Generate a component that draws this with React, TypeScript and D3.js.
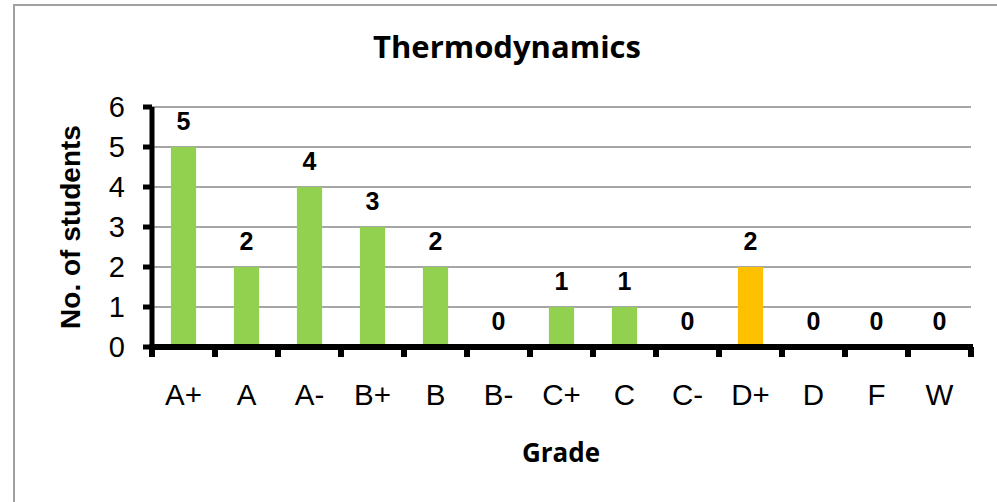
import * as d3 from "d3";

const grades = ["A+", "A", "A-", "B+", "B", "B-", "C+", "C", "C-", "D+", "D", "F", "W"];
const students = [5, 2, 4, 3, 2, 0, 1, 1, 0, 2, 0, 0, 0];
const barColors = ["#92d050", "#92d050", "#92d050", "#92d050", "#92d050", "#92d050", "#92d050", "#92d050", "#92d050", "#ffc000", "#92d050", "#92d050", "#92d050"];
const yTicks = [0, 1, 2, 3, 4, 5, 6];

const W = 997;
const H = 502;
const MARGIN = { top: 107, right: 26, bottom: 155, left: 152 };

export default function App() {
  const boundsWidth = W - MARGIN.left - MARGIN.right;
  const boundsHeight = H - MARGIN.top - MARGIN.bottom;

  const xScale = d3.scaleBand().domain(grades).range([0, boundsWidth]).padding(0);
  const yScale = d3.scaleLinear().domain([0, 6]).range([boundsHeight, 0]);
  const step = xScale.step();
  const barWidth = step * 0.4;

  const sans = "Arial, 'Liberation Sans', sans-serif";
  const calibri = "'Open Sans', sans-serif";

  return (
    <svg width={W} height={H} style={{ position: "absolute", left: 0, top: 0 }}>
      <rect x={0} y={0} width={W} height={H} fill="#fff" />
      <rect x={14} y={5} width={1100} height={700} fill="none" stroke="#a0a0a0" strokeWidth={2} />

      <text x={507} y={58} textAnchor="middle" fontFamily={calibri} fontWeight="bold" fontSize={31}>
        Thermodynamics
      </text>

      <g transform={`translate(${MARGIN.left},${MARGIN.top})`}>
        {yTicks.filter((t) => t > 0).map((t) => (
          <line key={t} x1={0} x2={boundsWidth} y1={yScale(t)} y2={yScale(t)} stroke="#a6a6a6" strokeWidth={2} />
        ))}

        {grades.map((g, i) => {
          const x = (xScale(g) ?? 0) + step / 2;
          const v = students[i];
          return (
            <g key={g}>
              {v > 0 && (
                <rect x={x - barWidth / 2} y={yScale(v)} width={barWidth} height={yScale(0) - yScale(v)} fill={barColors[i]} />
              )}
              <text x={x} y={yScale(v) - 17} textAnchor="middle" fontFamily={sans} fontWeight="bold" fontSize={25}>
                {v}
              </text>
              <text x={x} y={boundsHeight + 58} textAnchor="middle" fontFamily={sans} fontSize={29.5}>
                {g}
              </text>
            </g>
          );
        })}

        {/* axes */}
        <line x1={0} x2={0} y1={yScale(6)} y2={yScale(0)} stroke="#000" strokeWidth={5} />
        <line x1={-2.5} x2={boundsWidth + 2} y1={yScale(0)} y2={yScale(0)} stroke="#000" strokeWidth={6} />
        {yTicks.map((t) => (
          <line key={t} x1={-9} x2={0} y1={yScale(t)} y2={yScale(t)} stroke="#000" strokeWidth={5} />
        ))}
        {[...grades.map((g) => xScale(g) ?? 0), boundsWidth].map((x, i) => (
          <line key={i} x1={x} x2={x} y1={yScale(0)} y2={yScale(0) + 10} stroke="#000" strokeWidth={6} />
        ))}
        {yTicks.map((t) => (
          <text key={t} x={-27} y={yScale(t)} textAnchor="end" dominantBaseline="central" fontFamily={sans} fontSize={29}>
            {t}
          </text>
        ))}
      </g>

      <text
        transform={`translate(80,${MARGIN.top + boundsHeight / 2}) rotate(-90)`}
        textAnchor="middle"
        fontFamily={sans}
        fontWeight="bold"
        fontSize={28}
      >
        No. of students
      </text>

      <text x={561} y={462} textAnchor="middle" fontFamily={calibri} fontWeight="bold" fontSize={26}>
        Grade
      </text>
    </svg>
  );
}
